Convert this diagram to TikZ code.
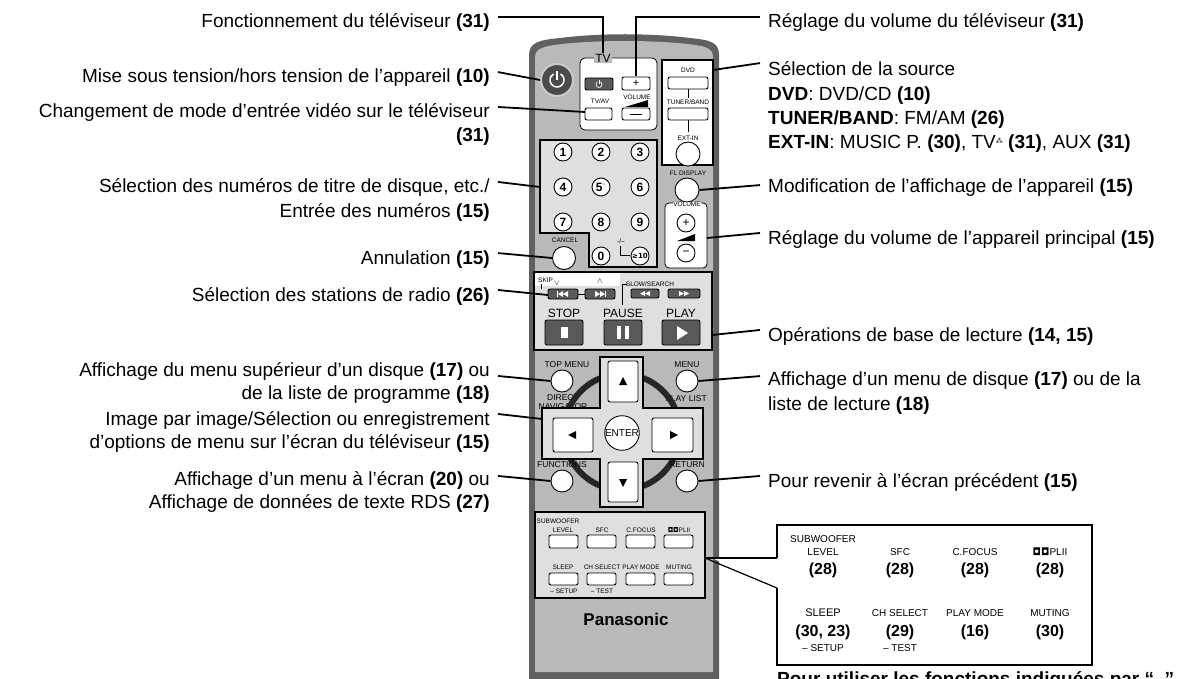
\documentclass[tikz,border=0pt]{standalone}
\usepackage{fontspec}
\setmainfont{Liberation Sans}
\newfontfamily\symf{DejaVu Sans}
\begin{document}
\begin{tikzpicture}[x=1pt,y=-1pt,
  lab/.style={font=\fontsize{19}{22}\selectfont,inner sep=0pt},
  labl/.style={lab,anchor=base east},
  labr/.style={lab,anchor=base west},
  con/.style={line width=1.8pt},
  tiny/.style={font=\fontsize{6.5}{7}\selectfont,inner sep=0pt},
  sm/.style={font=\fontsize{8.5}{9}\selectfont,inner sep=0pt},
  wbtn/.style={draw=black,line width=0.9pt,fill=white,rounded corners=2pt},
  dbtn/.style={draw=black,line width=0.9pt,fill=gray!70!black,rounded corners=2pt},
  cbtn/.style={draw=black,line width=0.9pt,fill=white,circle,inner sep=0pt},
  num/.style={cbtn,minimum size=18pt,font=\bfseries\fontsize{12}{12}\selectfont},
  ilab/.style={font=\fontsize{10}{11}\selectfont,inner sep=0pt},
  inum/.style={font=\bfseries\fontsize{16}{17}\selectfont,inner sep=0pt},
  hl/.style={draw=black,line width=2.2pt},
  ico/.style={fill=white}]
\useasboundingbox (0,0) rectangle (1198,679);
% ---------- remote body ----------
\fill[gray!75!black] (529,679) -- (529,55) .. controls (529,42) and (540,40) .. (560,38) .. controls (600,33) and (650,33) .. (690,38) .. controls (710,40) and (719,42) .. (719,55) -- (719,679) -- cycle;
\fill[gray!55] (535,672) -- (535,57) .. controls (535,48) and (545,46) .. (562,44) .. controls (600,40) and (650,40) .. (688,44) .. controls (705,46) and (713,48) .. (713,57) -- (713,672) -- cycle;
% power
\node[circle,fill=gray!60!black,draw=gray!40,line width=2pt,minimum size=32pt,inner sep=0pt] (pwr) at (557,80) {};
\draw[white,line width=1.5pt] (pwr.center) ++(-60:7) arc[start angle=-60,end angle=240,radius=7];
\draw[white,line width=1.5pt] (557,71) -- (557,80);
% TV panel
\draw[fill=white,line width=0.8pt,rounded corners=5pt] (580,58) rectangle (657,130);
\node[fill=gray!55,font=\fontsize{12}{12}\selectfont,inner sep=1pt] (tv) at (603,58) {TV};
\draw[dbtn] (585,78) rectangle (613,90);
\draw[white,line width=0.7pt] (599,84.5) ++(-60:3) arc[start angle=-60,end angle=240,radius=3];
\draw[white,line width=0.7pt] (599,80.5) -- (599,84.5);
\draw[wbtn] (622,77) rectangle (650,90);
\node[font=\fontsize{11}{11}\selectfont] (plus) at (636,83) {+};
\node[tiny] at (637,97) {VOLUME};
\fill (625,107) -- (648,107) -- (648,100) -- cycle;
\node[tiny] at (600,101) {TV/AV};
\draw[wbtn] (585,108) rectangle (612,120);
\coordinate (tvav) at (585,112);
\draw[wbtn] (622,108) rectangle (650,120);
\draw[line width=0.9pt] (630,114) -- (642,114);
% source box
\draw[hl,fill=white] (662,60) rectangle (713,165);
\coordinate (src) at (713,70);
\node[tiny] at (688,70) {DVD};
\draw[wbtn] (668,77) rectangle (708,89);
\draw (688,89) -- (688,98);
\node[tiny] at (688,102) {TUNER/BAND};
\draw[wbtn] (668,108) rectangle (708,120);
\draw (688,120) -- (688,132);
\node[tiny] at (688,138) {EXT-IN};
\node[cbtn,minimum size=24pt] at (688,154) {};
% numpad
\draw[hl,fill=gray!25] (540,140) -- (540,233) -- (589,233) -- (589,267) -- (657,267) -- (657,140) -- cycle;
\coordinate (npad) at (540,187);
\foreach \n/\x/\y in {1/563/152,2/601/152,3/640/152,4/563/187,6/640/187,7/563/222,8/601/222,9/640/222,0/601/256}
  \node[num] at (\x,\y) {\n};
\node[num] at (601,187) {5\textsuperscript{\tiny\symf ◦}};
\node[cbtn,minimum size=18pt,font=\symf\bfseries\fontsize{7}{7}\selectfont] at (640,256) {≥10};
\node[tiny] at (621,241) {-/--};
\draw (620,246) -- (620,255) -- (630,255);
% cancel
\node[tiny] at (565,240) {CANCEL};
\node[cbtn,minimum size=23pt] (cancel) at (564,258) {};
% FL display
\node[tiny] at (688,173) {FL DISPLAY};
\node[cbtn,minimum size=24pt] (fl) at (687,190) {};
% volume panel
\draw[fill=white,line width=0.8pt,rounded corners=4pt] (665,203) rectangle (707,268);
\coordinate (vol) at (707,238);
\node[tiny,fill=white] at (687,204) {VOLUME};
\node[cbtn,minimum size=18pt,font=\fontsize{12}{12}\selectfont] at (686,223) {+};
\fill (677,241) -- (695,241) -- (695,234) -- cycle;
\node[cbtn,minimum size=18pt,font=\fontsize{12}{12}\selectfont] at (686,253) {−};
% playback box
\draw[hl,fill=gray!25] (534,272) rectangle (712,350);
\coordinate (play) at (712,335);
\fill[white] (535,273) rectangle (620,286);
\node[tiny,anchor=west] at (538,280) {SKIP};
\draw (541,284) -- (541,289);
\node[sm] at (557,283) {$\vee$};
\node[sm] at (600,281) {$\wedge$};
\draw[dbtn] (548,289) rectangle (578,299);
\draw[dbtn] (585,289) rectangle (615,299);
\draw (578,294) -- (585,294);
\coordinate (skip) at (548,295);
\fill[ico] (557,291) rectangle (558,297);
\fill[ico] (558,294) -- (563,291) -- (563,297) -- cycle;
\fill[ico] (563,294) -- (568,291) -- (568,297) -- cycle;
\fill[ico] (595,291) -- (600,294) -- (595,297) -- cycle;
\fill[ico] (600,291) -- (605,294) -- (600,297) -- cycle;
\fill[ico] (605,291) rectangle (606,297);
\node[tiny] at (650,284) {SLOW/SEARCH};
\draw (622,305) -- (622,284) -- (627,284);
\draw[dbtn] (631,289) rectangle (659,298);
\draw[dbtn] (668,289) rectangle (700,298);
\fill[ico] (640,293.5) -- (645,291) -- (645,296) -- cycle;
\fill[ico] (645,293.5) -- (650,291) -- (650,296) -- cycle;
\fill[ico] (679,291) -- (684,293.5) -- (679,296) -- cycle;
\fill[ico] (684,291) -- (689,293.5) -- (684,296) -- cycle;
\node[font=\fontsize{12}{12}\selectfont] at (564,313) {STOP};
\node[font=\fontsize{12}{12}\selectfont] at (623,313) {PAUSE};
\node[font=\fontsize{12}{12}\selectfont] at (681,313) {PLAY};
\draw[dbtn] (545,320) rectangle (583,345);
\draw[dbtn] (604,320) rectangle (642,345);
\draw[dbtn] (662,320) rectangle (700,345);
\fill[white] (561,327) rectangle (568,338);
\fill[white] (617,326) rectangle (621,339); \fill[white] (625,326) rectangle (629,339);
\fill[white] (677,326) -- (677,340) -- (688,333) -- cycle;
% menu row
\node[sm] at (567,365) {TOP MENU};
\node[cbtn,minimum size=22pt] (topm) at (562,381) {};
\node[sm] at (563,398) {DIRECT};
\node[sm] at (563,407) {NAVIGATOR};
\node[sm] at (687,365) {MENU};
\node[cbtn,minimum size=22pt] (menu) at (687,381) {};
\node[sm] at (686,399) {PLAY LIST};
% dpad
\draw[line width=6pt,gray!30!black] (622,432) circle (58);
\draw[hl,fill=gray!25] (600,357) -- (643,357) -- (643,408) -- (703,408) -- (703,459) -- (643,459) -- (643,507) -- (600,507) -- (600,459) -- (542,459) -- (542,408) -- (600,408) -- cycle;
\coordinate (dpad) at (542,419);
\draw[wbtn] (608,361) rectangle (638,402);
\draw[wbtn] (608,462) rectangle (638,502);
\draw[wbtn] (553,418) rectangle (593,452);
\draw[wbtn] (652,418) rectangle (693,452);
\fill (623,377) -- (619,385) -- (627,385) -- cycle;
\fill (623,487) -- (619,479) -- (627,479) -- cycle;
\fill (568,435) -- (576,431) -- (576,439) -- cycle;
\fill (678,435) -- (670,431) -- (670,439) -- cycle;
\node[cbtn,minimum size=34pt,font=\fontsize{10}{10}\selectfont] at (622,433) {ENTER};
\node[sm] at (562,465) {FUNCTIONS};
\node[cbtn,minimum size=22pt] (func) at (562,481) {};
\node[sm] at (687,465) {RETURN};
\node[cbtn,minimum size=22pt] (ret) at (687,481) {};
% bottom panel
\draw[line width=1.4pt,fill=gray!25] (535,512) rectangle (705,598);
\coordinate (bpan) at (705,558);
\foreach \x in {549,587,626,664}{
  \draw[wbtn] (\x,535) rectangle ++(29,13);
  \draw[wbtn] (\x,573) rectangle ++(29,12);}
\node[tiny] at (558,521) {SUBWOOFER};
\node[tiny] at (563,530) {LEVEL};
\node[tiny] at (602,530) {SFC};
\node[tiny] at (641,530) {C.FOCUS};
\node[tiny] at (679,530) {\textbf{\symf ◘◘}PLII};
\node[tiny] at (563,567) {SLEEP};
\node[tiny] at (602,567) {CH SELECT};
\node[tiny] at (641,567) {PLAY MODE};
\node[tiny] at (679,567) {MUTING};
\node[tiny] at (564,591) {– SETUP};
\node[tiny] at (602,591) {– TEST};
\node[font=\bfseries\fontsize{17}{17}\selectfont] at (626,619) {Panasonic};
% ---------- inset ----------
\draw[line width=1.8pt,fill=white] (777,558) -- (777,525) -- (1092,525) -- (1092,665) -- (777,665) -- (777,588);
\fill[white] (712,558) -- (779,558) -- (779,588) -- cycle;
\draw[line width=1.2pt] (bpan) -- (777,558);
\draw[line width=1.2pt] (bpan) -- (777,588);
\node[ilab] at (823,539) {SUBWOOFER};
\node[ilab] at (823,552) {LEVEL};
\node[ilab] at (900,552) {SFC};
\node[ilab] at (975,552) {C.FOCUS};
\node[ilab] at (1050,552) {\textbf{\symf ◘◘}PLII};
\foreach \x in {823,900,975,1050} \node[inum] at (\x,570) {(28)};
\node[ilab,font=\fontsize{11}{11}\selectfont] at (823,613) {SLEEP};
\node[ilab] at (900,613) {CH SELECT};
\node[ilab] at (975,613) {PLAY MODE};
\node[ilab] at (1050,613) {MUTING};
\node[inum] at (823,632) {(30, 23)};
\node[inum] at (900,632) {(29)};
\node[inum] at (975,632) {(16)};
\node[inum] at (1050,632) {(30)};
\node[ilab] at (823,648) {– SETUP};
\node[ilab] at (900,648) {– TEST};
\node[lab,anchor=north west,font=\bfseries\fontsize{19}{22}\selectfont] (note) at (777,671) {Pour utiliser les fonctions indiquées par “–”};
% ---------- left labels ----------
\node[labl] (l1) at (490,28) {Fonctionnement du téléviseur \textbf{(31)}};
\node[labl] (l2) at (490,83) {Mise sous tension/hors tension de l’appareil \textbf{(10)}};
\node[labl] (l3) at (490,118) {Changement de mode d’entrée vidéo sur le téléviseur};
\node[labl] (l3b) at (490,142) {\textbf{(31)}};
\node[labl] (l4) at (490,193) {Sélection des numéros de titre de disque, etc./};
\node[labl] (l4b) at (490,217) {Entrée des numéros \textbf{(15)}};
\node[labl] (l5) at (490,264) {Annulation \textbf{(15)}};
\node[labl] (l6) at (490,301) {Sélection des stations de radio \textbf{(26)}};
\node[labl] (l7) at (490,376) {Affichage du menu supérieur d’un disque \textbf{(17)} ou};
\node[labl] (l7b) at (490,399) {de la liste de programme \textbf{(18)}};
\node[labl] (l8) at (490,425) {Image par image/Sélection ou enregistrement};
\node[labl] (l8b) at (490,448) {d’options de menu sur l’écran du téléviseur \textbf{(15)}};
\node[labl] (l9) at (490,485) {Affichage d’un menu à l’écran \textbf{(20)} ou};
\node[labl] (l9b) at (490,508) {Affichage de données de texte RDS \textbf{(27)}};
% right labels
\node[labr] (r1) at (768,28) {Réglage du volume du téléviseur \textbf{(31)}};
\node[labr] (r2) at (768,76) {Sélection de la source};
\node[labr] (r2b) at (768,101) {\textbf{DVD}: DVD/CD \textbf{(10)}};
\node[labr] (r2c) at (768,125) {\textbf{TUNER/BAND}: FM/AM \textbf{(26)}};
\node[labr] (r2d) at (768,149) {\textbf{EXT-IN}: MUSIC P. \textbf{(30)}, TV{\symf\fontsize{7}{7}\selectfont\raisebox{5pt}{⁂}} \textbf{(31)}, AUX \textbf{(31)}};
\node[labr] (r3) at (768,193) {Modification de l’affichage de l’appareil \textbf{(15)}};
\node[labr] (r4) at (768,244) {Réglage du volume de l’appareil principal \textbf{(15)}};
\node[labr] (r5) at (768,341) {Opérations de base de lecture \textbf{(14, 15)}};
\node[labr] (r6) at (768,385) {Affichage d’un menu de disque \textbf{(17)} ou de la};
\node[labr] (r6b) at (768,410) {liste de lecture \textbf{(18)}};
\node[labr] (r7) at (768,487) {Pour revenir à l’écran précédent \textbf{(15)}};
% ---------- connectors ----------
\draw[con] (l1.east) ++(8,-6) -| (tv.north);
\draw[con] (l2.east) ++(8,-6) -- (pwr.west);
\draw[con] (l3.east) ++(8,-6) -- (tvav);
\draw[con] (l4.east) ++(8,-6) -- (npad);
\draw[con] (l5.east) ++(8,-6) -- (cancel.west);
\draw[con] (l6.east) ++(8,-6) -- (skip);
\draw[con] (l7.east) ++(8,5) -- (topm.west);
\draw[con] (l8.east) ++(8,-6) -- (dpad);
\draw[con] (l9.east) ++(8,-4) -- (func.west);
\draw[con] (r1.west) ++(-8,-6) -| (plus.north);
\draw[con] (r2.west) ++(-8,-6) -- (src);
\draw[con] (r3.west) ++(-8,-3) -- (fl.east);
\draw[con] (r4.west) ++(-8,-6) -- (vol);
\draw[con] (r5.west) ++(-8,-6) -- (play);
\draw[con] (r6.west) ++(-8,-4) -- (menu.east);
\draw[con] (r7.west) ++(-8,-6) -- (ret.east);
\end{tikzpicture}
\end{document}
